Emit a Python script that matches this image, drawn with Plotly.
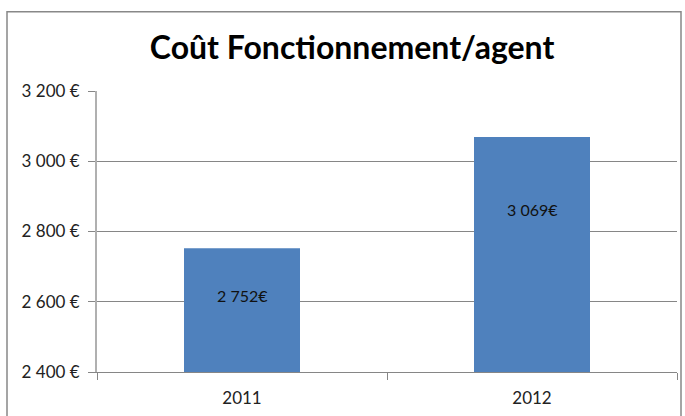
import plotly.graph_objects as go

categories = ["2011", "2012"]
values = [2752, 3069]
value_labels = ["2 752€", "3 069€"]
tick_vals = [2400, 2600, 2800, 3000, 3200]
tick_text = ["2 400 €", "2 600 €", "2 800 €", "3 000 €", "3 200 €"]
# label placement (data units, where the original places the labels inside the bars)
label_y = [2617, 2862]

fig = go.Figure()
fig.add_trace(go.Bar(
    x=categories, y=values, width=0.4,
    marker=dict(color="#4F81BD", line=dict(width=0)),
    hoverinfo="skip",
))
for i, (ly, t) in enumerate(zip(label_y, value_labels)):
    fig.add_annotation(x=i, y=ly, xref="x", yref="y", text=t, showarrow=False,
                       font=dict(family="Lato", size=16, color="#111111"))

font = "Lato"
fig.update_layout(
    width=685, height=416,
    margin=dict(l=97, r=8, t=91, b=41),
    paper_bgcolor="white", plot_bgcolor="white",
    showlegend=False,
    title=dict(text="<b>Coût Fonctionnement/agent</b>", x=0.514, xref="container",
               y=1 - 48 / 416, yref="container", xanchor="center", yanchor="middle",
               font=dict(family=font, size=32, color="black")),
    xaxis=dict(type="category", showline=True, linecolor="#868686", linewidth=1,
               ticks="outside", tickson="boundaries", ticklen=7, tickcolor="#868686",
               tickfont=dict(family=font, size=17, color="#222222"), showgrid=False,
               ticklabelstandoff=11, range=[-0.5, 1.5]),
    yaxis=dict(range=[2400, 3200], tickvals=tick_vals, ticktext=tick_text,
               showline=True, linecolor="#B0B0B0", linewidth=2,
               ticks="outside", ticklen=7, tickcolor="#868686",
               showgrid=True, gridcolor="#868686", gridwidth=1, zeroline=False,
               ticklabelstandoff=5,
               tickfont=dict(family=font, size=17, color="#222222")),
    shapes=[dict(type="rect", xref="paper", yref="paper",
                 x0=(7 - 97) / 580, x1=(681 - 97) / 580,
                 y0=-0.3, y1=(375 - 11) / 284,
                 line=dict(color="#888888", width=1.5), layer="below")],
)

fig.write_html("out.html", config={"displayModeBar": False},
               post_script="document.body.style.margin='0';")
